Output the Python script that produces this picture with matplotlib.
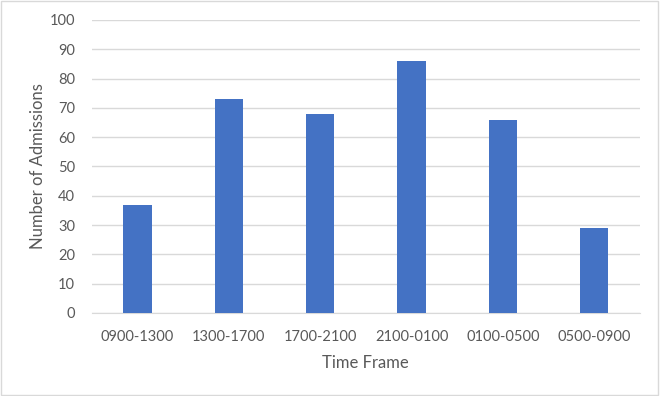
import matplotlib.pyplot as plt
from matplotlib.patches import Rectangle

time_frames = ["0900-1300", "1300-1700", "1700-2100", "2100-0100", "0100-0500", "0500-0900"]
admissions = [37, 73, 68, 86, 66, 29]
y_ticks = list(range(0, 101, 10))

plt.rcParams["font.family"] = ["Lato", "DejaVu Sans"]
text_color = "#595959"
grid_color = "#d9d9d9"

fig = plt.figure(figsize=(6.61, 3.96), dpi=100)
ax = fig.add_axes([0.139, 0.2096, 0.829, 0.74])

x = range(len(time_frames))
ax.bar(x, admissions, width=0.313, color="#4472c4", zorder=3)

ax.set_xlim(-0.5, len(time_frames) - 0.5)
ax.set_ylim(0, 100)
ax.set_yticks(y_ticks)
ax.set_xticks(list(x))
ax.set_xticklabels(time_frames)
ax.grid(axis="y", color=grid_color, linewidth=1, zorder=0)
ax.tick_params(length=0, labelsize=10.5, colors=text_color)
ax.tick_params(axis="x", pad=12)
ax.tick_params(axis="y", pad=12)
for s in ["top", "right", "left"]:
    ax.spines[s].set_visible(False)
ax.spines["bottom"].set_color(grid_color)

ax.set_xlabel("Time Frame", fontsize=12, color=text_color, labelpad=8)
ax.set_ylabel("Number of Admissions", fontsize=12, color=text_color, labelpad=3)

fig.patches.append(Rectangle((0.002, 0.003), 0.994, 0.994, transform=fig.transFigure,
                             fill=False, edgecolor=grid_color, linewidth=1))

fig.savefig("out.png", dpi=100)
